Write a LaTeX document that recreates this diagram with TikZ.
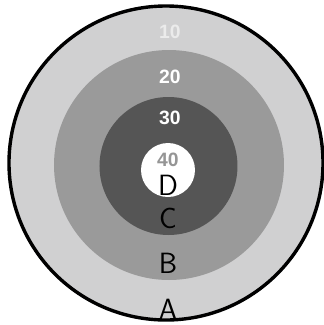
\documentclass[tikz,border=0pt]{standalone}
\usepackage{fontspec}
\newfontfamily\numfont{Liberation Sans}
\definecolor{ringA}{HTML}{D0D0D1}
\definecolor{ringB}{HTML}{9A9A9A}
\definecolor{ringC}{HTML}{555555}
\definecolor{numgray}{HTML}{959595}
\tikzset{
  score/.style={font=\numfont\bfseries\fontsize{16.5}{16.5}\selectfont,text=white,inner sep=0pt},
  zone/.style={font=\sffamily\fontsize{25}{25}\selectfont,text=black,inner sep=0pt}
}
\begin{document}
\begin{tikzpicture}[x=0.03cm,y=-0.03cm]
  \useasboundingbox (0,0) rectangle (323,325);
  % target rings
  \fill[white] (0,0) rectangle (323,325);
  \fill[ringA] (166,163) circle (157);
  \fill[ringB] (169,165) circle (115);
  \fill[ringC] (168.5,166) circle (69);
  \fill[white] (168,170) circle (27);
  \draw[line width=2.9pt] (166,163) circle (157);
  % scores
  \node[score,text=white!92!black] (s10) at (170,32) {10};
  \node[score] (s20) at (170,77) {20};
  \node[score] (s30) at (170,118) {30};
  \node[score,text=numgray] (s40) at (168,159.5) {40};
  % zone letters
  \node[zone] (zD) at (168,185) {D};
  \node[zone] (zC) at (168,218) {C};
  \node[zone] (zB) at (168,263) {B};
  \node[zone] (zA) at (168,309) {A};
\end{tikzpicture}
\end{document}
